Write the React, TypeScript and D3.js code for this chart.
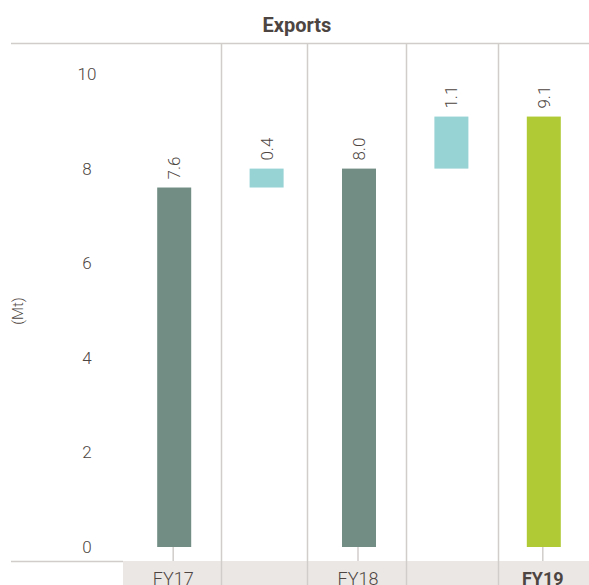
import React from "react";
import * as d3 from "d3";

const categories = ["FY17", "d1", "FY18", "d2", "FY19"];
const axisLabels = ["FY17", "", "FY18", "", "FY19"];
const barStarts = [0, 7.6, 0, 8.0, 0];
const barEnds = [7.6, 8.0, 8.0, 9.1, 9.1];
const valueLabels = ["7.6", "0.4", "8.0", "1.1", "9.1"];
const barKinds = ["total", "delta", "total", "delta", "current"];
const yTicks = [0, 2, 4, 6, 8, 10];

const W = 589;
const H = 585;
const TEXT = "#4d4541";
const GRID = "#d0cdcb";
const colors: Record<string, string> = {
  total: "#718d84",
  delta: "#97d3d5",
  current: "#afca35",
};
// small layout nudges of the column separators relative to band midpoints
const sepNudge = [1.5, -5.5, 1.5, 0.5];

export default function App() {
  const x = d3.scalePoint<string>().domain(categories).range([128, 590]).padding(0.5);
  const y = d3.scaleLinear().domain([0, 10]).range([547, 74]);
  const bw = 34;
  const step = x.step();
  const font = "Roboto, 'Open Sans', sans-serif";

  return (
    <svg width={W} height={H} style={{ position: "absolute", left: 0, top: 0 }} fontFamily={font}>
      <rect x={0} y={0} width={W} height={H} fill="#fff" />
      <text x={297} y={32} textAnchor="middle" fontSize={20} fontWeight={700} fill={TEXT}>
        Exports
      </text>
      <line x1={11} x2={W} y1={43.5} y2={43.5} stroke={GRID} strokeWidth={1.5} />
      <rect x={123} y={561} width={W - 123} height={H - 561} fill="#ebe7e5" />
      <line x1={11} x2={123} y1={561.5} y2={561.5} stroke={GRID} strokeWidth={1.5} />
      {categories.slice(1).map((c, i) => {
        const sx = Math.round((x(c) as number) - step / 2) + sepNudge[i];
        return <line key={c} x1={sx} x2={sx} y1={44} y2={H} stroke={GRID} strokeWidth={1.5} />;
      })}
      {yTicks.map((t) => (
        <text key={t} x={87} y={y(t)} dy="0.35em" textAnchor="middle" fontSize={17} fill={TEXT} fontWeight={300}>
          {t}
        </text>
      ))}
      <text transform={`translate(23,311) rotate(-90)`} textAnchor="middle" fontSize={15} fill={TEXT} fontWeight={300}>
        (Mt)
      </text>
      {categories.map((c, i) => {
        const cx = x(c) as number;
        const top = y(barEnds[i]);
        const bot = y(barStarts[i]);
        return (
          <g key={c}>
            <rect x={cx - bw / 2} y={top} width={bw} height={bot - top} fill={colors[barKinds[i]]} />
            <text
              transform={`translate(${cx + 6},${top - 8}) rotate(-90)`}
              textAnchor="start"
              fontSize={17}
              fill={TEXT}
              fontWeight={300}
            >
              {valueLabels[i]}
            </text>
            {axisLabels[i] && (
              <>
                <line x1={cx - 1} x2={cx - 1} y1={y(0)} y2={561} stroke={GRID} strokeWidth={1.5} />
                <text
                  x={cx - 1}
                  y={585}
                  textAnchor="middle"
                  fontSize={18}
                  fill={TEXT}
                  fontWeight={barKinds[i] === "current" ? 700 : 300}
                >
                  {axisLabels[i]}
                </text>
              </>
            )}
          </g>
        );
      })}
    </svg>
  );
}
